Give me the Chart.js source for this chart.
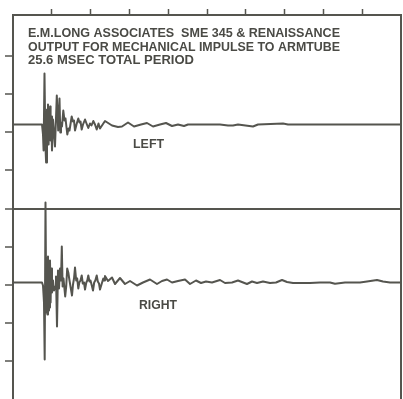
<!DOCTYPE html>
<html>
<head>
<meta charset="utf-8">
<script src="https://cdn.jsdelivr.net/npm/chart.js@4.4.1/dist/chart.umd.min.js"></script>
<style>
  html, body { margin: 0; padding: 0; background: #ffffff; }
  canvas { display: block; }
</style>
</head>
<body>
<canvas id="impulse" width="403" height="399"></canvas>
<script>
// Header printed inside the frame
const titleLines = [
  'E.M.LONG ASSOCIATES  SME 345 & RENAISSANCE',
  'OUTPUT FOR MECHANICAL IMPULSE TO ARMTUBE',
  '25.6 MSEC TOTAL PERIOD'
];
const channelNames = ['LEFT', 'RIGHT'];

// Time divisions along the top edge (ms) and vertical divisions on the left edge
const timeTicks = [2.56, 5.12, 7.68, 10.24, 12.8, 15.36, 17.92, 20.48, 23.04];
const divisionTicks = [1, 2, 3, 4, 5, 6, 7, 8, 9];

// Left channel response: time (ms) and relative output
const leftTimes = [
  0, 1.913, 1.979, 2.019, 2.078, 2.138, 2.184, 2.243, 2.276, 2.309,
  2.349, 2.382, 2.415, 2.448, 2.481, 2.520, 2.573, 2.639, 2.705, 2.771,
  2.890, 2.982, 3.068, 3.121, 3.167, 3.233, 3.319, 3.398, 3.464, 3.583,
  3.662, 3.728, 3.873, 3.959, 4.025, 4.091, 4.190, 4.308, 4.388, 4.454,
  4.533, 4.619, 4.751, 4.850, 4.968, 5.080, 5.179, 5.298, 5.410, 5.523,
  5.641, 5.740, 6.070, 6.532, 6.928, 7.192, 7.588, 7.984, 8.446, 8.841,
  9.237, 9.699, 10.095, 10.491, 10.887, 11.283, 11.546, 13.658, 14.186, 14.516,
  14.846, 15.835, 16.165, 17.815, 18.145, 25.6
];
const leftValues = [
  0, 0, -10, -26, 51, -20, -38, 15, -15, 20,
  -20, 14, -12, 18, -16, 8, -26, 5, -8, -22,
  29, -6, 26, -8, 2, -2, 14, 4, 6, -10,
  -4, -6, 8, 3, 4, -6, 0, 6, 2, 3,
  -5, 0, 5, 1, -3.5, 1, -1, 3.5, 0, -5,
  1, -4, 3.5, -1, -2.5, -2, 2, -2, 0, 1.5,
  -2, 0, 1.5, -1.5, 0, -1.5, 0, 0, -1, -1,
  0, -2, 0, 1, 0, 0
];

// Right channel response: time (ms) and relative output
const rightTimes = [
  0, 1.913, 1.979, 2.045, 2.091, 2.144, 2.197, 2.237, 2.270, 2.309,
  2.342, 2.375, 2.408, 2.441, 2.481, 2.520, 2.573, 2.639, 2.705, 2.784,
  2.837, 2.903, 2.969, 3.035, 3.101, 3.167, 3.220, 3.273, 3.332, 3.444,
  3.510, 3.576, 3.649, 3.728, 3.794, 3.893, 3.959, 4.025, 4.091, 4.170,
  4.236, 4.308, 4.374, 4.454, 4.533, 4.605, 4.685, 4.751, 4.836, 4.902,
  4.968, 5.047, 5.113, 5.199, 5.278, 5.357, 5.430, 5.523, 5.595, 5.674,
  5.740, 5.839, 5.958, 6.017, 6.070, 6.268, 6.532, 6.730, 7.060, 7.390,
  7.720, 8.182, 8.578, 9.040, 9.501, 9.831, 10.161, 10.491, 10.887, 11.349,
  11.679, 12.074, 12.404, 12.734, 13.130, 13.658, 13.988, 14.450, 14.846, 15.439,
  15.769, 16.099, 16.495, 16.957, 17.353, 17.749, 18.079, 18.474, 19.596, 20.256,
  20.916, 21.246, 21.906, 22.895, 23.357, 24.017, 24.413, 24.875, 25.6
];
const rightValues = [
  0, 0, -3, -20, -77, 80, -30, 24, -32, 26,
  -28, 20, -25, 22, -20, 14, -10, 2, -8, -4,
  6, -44, 12, -6, 14, 2, 36, -4, 4, -14,
  -4, 14, 10, 2, -4, -13, -2, 4, 15, 2,
  4, -6, 0, 2, 7, -1, 0, -7, 0, 2,
  7, 1, 2, -3, -8, 0, 2, 7, 1, -1,
  -7, -2, 4, 2, 6.5, 1.5, 5, -1.5, 4.5, -1.5,
  1.5, -3, 0, 3, -1.5, 1.5, 3, 0, 1.5, 3,
  -1.5, 2, -0.5, 1, 0, 2.5, -0.5, 0, 2, -1.5,
  1, -0.5, 1, -0.5, 0, 2.5, 0.5, -0.5, -0.5, 0,
  0, -1.2, 0, 0, 1, 2.5, 1, 0, 0
];

const INK = '#55554f';
const TEXT_INK = '#4a4a45';
const NONE = 'rgba(0,0,0,0)';

const toPoints = (ts, vs) => ts.map((t, i) => ({ x: t, y: vs[i] }));

// Header and channel captions, each squeezed to the width of the printed lettering
const captions = {
  id: 'captions',
  afterDraw(chart) {
    const ctx = chart.ctx;
    const xs = chart.scales.x;
    const yl = chart.scales.yL;
    const yr = chart.scales.yR;
    ctx.save();
    ctx.fillStyle = TEXT_INK;
    ctx.font = 'bold 12.5px "Liberation Sans", Arial, sans-serif';
    ctx.textBaseline = 'alphabetic';
    const put = (txt, x, y, w) => {
      const m = ctx.measureText(txt).width;
      ctx.save();
      ctx.translate(x, y);
      ctx.scale(w / m, 1);
      ctx.fillText(txt, 0, 0);
      ctx.restore();
    };
    put(titleLines[0], 28, 36.5, 312);
    put(titleLines[1], 28, 50.5, 312);
    put(titleLines[2], 28, 64, 166);
    put(channelNames[0], xs.getPixelForValue(7.92), yl.getPixelForValue(-23.5), 31);
    put(channelNames[1], xs.getPixelForValue(8.31), yr.getPixelForValue(-26), 38);
    ctx.restore();
  }
};

const traceStyle = {
  borderColor: INK,
  borderWidth: 2,
  pointRadius: 0,
  tension: 0,
  fill: false,
  borderJoinStyle: 'round'
};

new Chart(document.getElementById('impulse'), {
  type: 'line',
  data: {
    datasets: [
      Object.assign({ label: channelNames[0], data: toPoints(leftTimes, leftValues), yAxisID: 'yL' }, traceStyle),
      Object.assign({ label: channelNames[1], data: toPoints(rightTimes, rightValues), yAxisID: 'yR' }, traceStyle)
    ]
  },
  options: {
    responsive: false,
    animation: false,
    devicePixelRatio: 1,
    layout: { padding: 0 },
    plugins: {
      legend: { display: false },
      tooltip: { enabled: false },
      title: { display: false }
    },
    scales: {
      x: {
        type: 'linear',
        position: 'top',
        min: 0,
        max: 25.6,
        afterBuildTicks: s => { s.ticks = timeTicks.map(v => ({ value: v })); },
        afterFit: s => { s.height = 15; },
        ticks: { display: false },
        grid: { drawOnChartArea: false, tickLength: 6, tickColor: INK, tickWidth: 1.5, color: INK },
        border: { display: true, color: INK, width: 2 }
      },
      g: {
        type: 'linear',
        position: 'left',
        min: 0,
        max: 10.08,
        afterBuildTicks: s => { s.ticks = divisionTicks.map(v => ({ value: v })); },
        afterFit: s => { s.width = 13; },
        ticks: { display: false },
        grid: {
          drawOnChartArea: true,
          color: c => (c.tick && c.tick.value === 5 ? INK : NONE),
          lineWidth: 2,
          tickLength: 8,
          tickColor: INK,
          tickWidth: 1.5
        },
        border: { display: true, color: INK, width: 2 }
      },
      r: {
        type: 'linear',
        position: 'right',
        afterFit: s => { s.width = 2; },
        ticks: { display: false },
        grid: { display: false },
        border: { display: true, color: INK, width: 2 }
      },
      yL: { display: false, min: -274.5, max: 109.5 },
      yR: { display: false, min: -116.5, max: 267.5 }
    }
  },
  plugins: [captions]
});
</script>
</body>
</html>
